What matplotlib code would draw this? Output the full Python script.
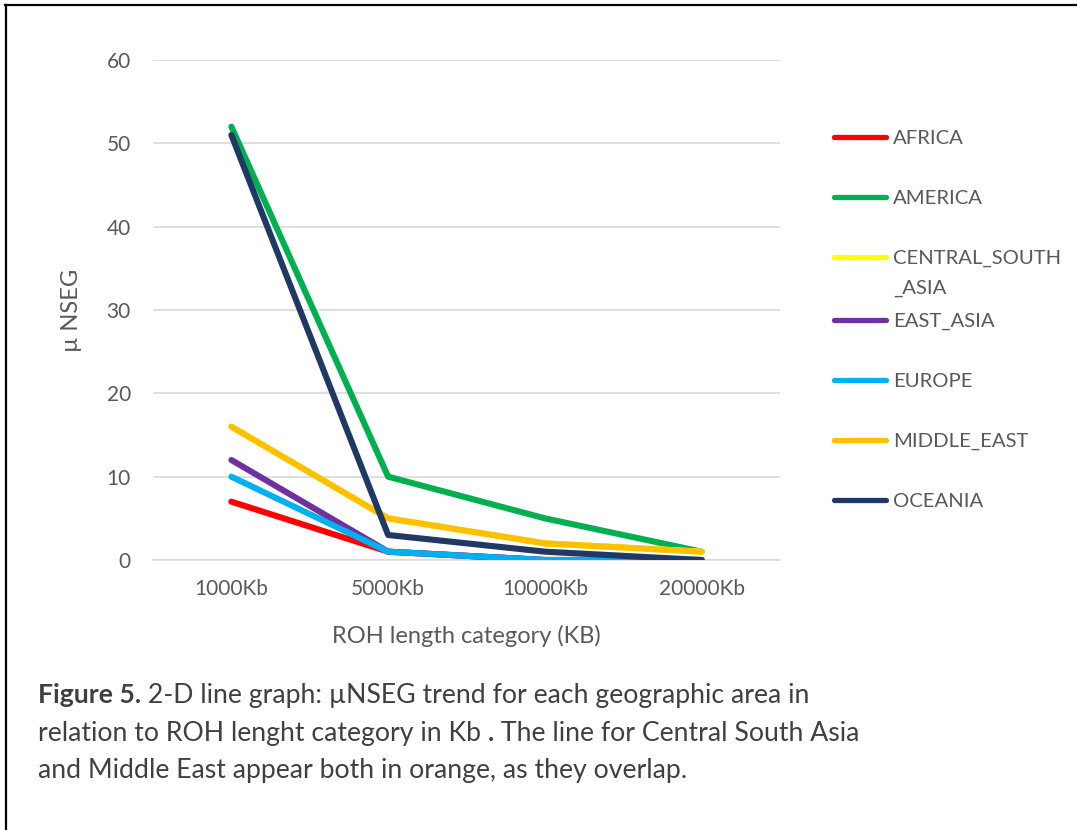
import matplotlib
matplotlib.use("Agg")
import matplotlib.pyplot as plt
from matplotlib.lines import Line2D

plt.rcParams['font.family'] = ['Lato', 'DejaVu Sans']

categories = ["1000Kb", "5000Kb", "10000Kb", "20000Kb"]
series_names = ["AFRICA", "AMERICA", "CENTRAL_SOUTH_ASIA", "EAST_ASIA",
                "EUROPE", "MIDDLE_EAST", "OCEANIA"]
legend_labels = ["AFRICA", "AMERICA", "CENTRAL_SOUTH\n_ASIA", "EAST_ASIA",
                 "EUROPE", "MIDDLE_EAST", "OCEANIA"]
africa = [7, 1, 0, 0]
america = [52, 10, 5, 1]
central_south_asia = [16, 5, 2, 1]
east_asia = [12, 1, 0, 0]
europe = [10, 1, 0, 0]
middle_east = [16, 5, 2, 1]
oceania = [51, 3, 1, 0]
series_values = [africa, america, central_south_asia, east_asia,
                 europe, middle_east, oceania]
colors = ["#FF0000", "#00B050", "#FFFF00", "#7030A0",
          "#00B0F0", "#FFC000", "#203864"]
yticks = [0, 10, 20, 30, 40, 50, 60]

W, H = 1077, 830
fig = plt.figure(figsize=(W / 100, H / 100), dpi=100)
fig.patch.set_facecolor("white")

def fx(px):
    return px / W

def fy(py):
    return 1 - py / H

TXT = "#595959"
ax = fig.add_axes([fx(153), fy(560), fx(780) - fx(153), fy(60) - fy(560)])
x = list(range(len(categories)))
for vals, col in zip(series_values, colors):
    ax.plot(x, vals, color=col, lw=4.4, solid_capstyle="round",
            solid_joinstyle="round", zorder=3)

ax.set_xlim(-0.5, len(categories) - 0.5)
ax.set_ylim(0, 60)
ax.set_yticks(yticks)
ax.set_xticks(x)
ax.set_xticklabels(categories)
ax.grid(axis="y", color="#D9D9D9", lw=1.2, zorder=0)
for s in ["top", "right", "left"]:
    ax.spines[s].set_visible(False)
ax.spines["bottom"].set_color("#D9D9D9")
ax.spines["bottom"].set_linewidth(1.2)
ax.tick_params(axis="both", length=0, colors=TXT, labelsize=15)
ax.tick_params(axis="y", pad=16)
ax.tick_params(axis="x", pad=14)
ax.set_ylabel("µ NSEG", fontsize=17, color=TXT, labelpad=18)
ax.set_xlabel("ROH length category (KB)", fontsize=17, color=TXT, labelpad=18)

# legend drawn by hand so wrapped labels keep the line beside their first row
legend_y = [137, 197, 257, 320, 380, 440, 500]
for lab, col, py in zip(legend_labels, colors, legend_y):
    fig.add_artist(Line2D([fx(834), fx(886)], [fy(py), fy(py)], color=col,
                          lw=3.8, solid_capstyle="round"))
    for i, row in enumerate(lab.split("\n")):
        fig.text(fx(893), fy(py + 30 * i), row, fontsize=14.6, color=TXT,
                 ha="left", va="center_baseline")

# caption, written piece by piece so bold and regular runs sit side by side
cap_color = "#404040"
cap_size = 19.2
renderer = fig.canvas.get_renderer()
caption_rows = [
    (693, [("Figure 5.", "bold"), (" 2-D line graph: µNSEG trend for each geographic area in", "normal")]),
    (731, [("relation to ROH lenght category in Kb ", "normal"), (".", "bold"),
           (" The line for Central South Asia", "normal")]),
    (768, [("and Middle East appear both in orange, as they overlap.", "normal")]),
]
for py, pieces in caption_rows:
    px = 38
    for s, w in pieces:
        t = fig.text(fx(px), fy(py), s, fontsize=cap_size, fontweight=w,
                     color=cap_color, ha="left", va="center_baseline")
        px += t.get_window_extent(renderer).width

# page frame
fig.add_artist(Line2D([fx(5), 1], [fy(5), fy(5)], color="black", lw=1.6))
fig.add_artist(Line2D([fx(6), fx(6)], [fy(5), 0], color="black", lw=1.6))

fig.savefig("out.png", dpi=100)
